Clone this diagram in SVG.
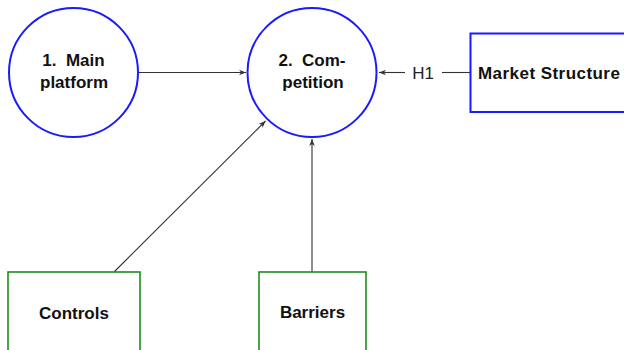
<svg xmlns="http://www.w3.org/2000/svg" width="624" height="350" viewBox="0 0 624 350">
<defs>
<style>
.t{font-family:"Liberation Sans",Arial,sans-serif;font-weight:bold;font-size:17px;fill:#111;text-anchor:middle}
.l{font-family:"Liberation Sans",Arial,sans-serif;font-size:17px;fill:#222;text-anchor:middle}
.c{fill:#fff;stroke:#1a1aff;stroke-width:2}
.b{fill:#fff;stroke:#1a1aff;stroke-width:2}
.g{fill:#fff;stroke:#1e8c1e;stroke-width:1.6}
.e{stroke:#333;stroke-width:1.1;fill:none}
</style>
<marker id="ah" viewBox="0 0 10 10" refX="10" refY="5" markerWidth="7" markerHeight="7" markerUnits="userSpaceOnUse" orient="auto">
<path d="M0,1 L10,5 L0,9 L3,5 Z" fill="#333"/>
</marker>
</defs>
<g id="connectors">
<line class="e" x1="138" y1="72.5" x2="246" y2="72.5" marker-end="url(#ah)"/>
<line class="e" x1="405" y1="72.5" x2="379" y2="72.5" marker-end="url(#ah)"/>
<line class="e" x1="442" y1="72.5" x2="470" y2="72.5"/>
<text class="l" x="423" y="79">H1</text>
<line class="e" x1="114" y1="272" x2="265.5" y2="121" marker-end="url(#ah)"/>
<line class="e" x1="312" y1="272" x2="312" y2="139" marker-end="url(#ah)"/>
</g>
<g id="main-platform">
<circle class="c" cx="73.5" cy="72.5" r="64.5"/>
<text class="t" x="73.5" y="66" xml:space="preserve">1.  Main</text>
<text class="t" x="74" y="88">platform</text>
</g>
<g id="competition">
<circle class="c" cx="312" cy="72.5" r="64.5"/>
<text class="t" x="312" y="66" xml:space="preserve">2.  Com-</text>
<text class="t" x="313" y="88">petition</text>
</g>
<g id="market-structure">
<rect class="b" x="470.5" y="33.5" width="156" height="78.5"/>
<text class="t" x="478" y="79" style="text-anchor:start;letter-spacing:0.45px">Market Structure</text>
</g>
<g id="controls">
<rect class="g" x="8" y="272" width="132" height="100"/>
<text class="t" x="74" y="319">Controls</text>
</g>
<g id="barriers">
<rect class="g" x="259" y="272" width="107" height="100"/>
<text class="t" x="312.5" y="318">Barriers</text>
</g>
</svg>
